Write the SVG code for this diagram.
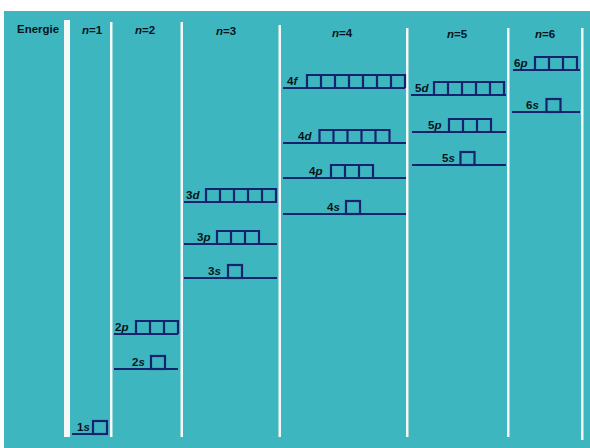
<svg xmlns="http://www.w3.org/2000/svg" width="590" height="448" viewBox="0 0 590 448">
  <style>
    .sep { fill: #f4f8f6; }
    .lvl { stroke: #17226f; stroke-width: 2.2; fill: none; }
    .box { stroke: #17226f; stroke-width: 2.2; fill: none; }
    .lab { font-family: "Liberation Sans", Arial, sans-serif; font-weight: bold; font-size: 11.5px; fill: #08121c; }
    .hdr { font-family: "Liberation Sans", Arial, sans-serif; font-weight: bold; font-size: 11.5px; fill: #08121c; }
    .it { font-style: italic; }
  </style>
  <rect x="0" y="0" width="590" height="448" fill="#ffffff"/>
  <rect x="4" y="11" width="586" height="437" fill="#3db6bf"/>

  <g id="columns">
    <rect class="sep" x="64" y="20" width="6" height="417"/>
    <rect class="sep" x="110" y="22" width="2.5" height="415"/>
    <rect class="sep" x="180.5" y="22" width="2.5" height="415"/>
    <rect class="sep" x="278.5" y="25" width="2.5" height="412"/>
    <rect class="sep" x="406" y="28" width="2.5" height="409"/>
    <rect class="sep" x="507" y="28" width="2.5" height="409"/>
    <rect class="sep" x="581" y="28" width="2.5" height="412"/>
  </g>

  <g id="headers">
    <text class="hdr" x="17" y="33" textLength="42" lengthAdjust="spacingAndGlyphs" font-size="12.5">Energie</text>
    <text class="hdr" x="82" y="34"><tspan class="it">n</tspan>=1</text>
    <text class="hdr" x="135" y="34"><tspan class="it">n</tspan>=2</text>
    <text class="hdr" x="216" y="35"><tspan class="it">n</tspan>=3</text>
    <text class="hdr" x="332" y="37"><tspan class="it">n</tspan>=4</text>
    <text class="hdr" x="447" y="38"><tspan class="it">n</tspan>=5</text>
    <text class="hdr" x="535" y="38"><tspan class="it">n</tspan>=6</text>
  </g>

  <g id="connectors"></g>

  <g id="o1s">
    <line class="lvl" x1="72" y1="434" x2="108" y2="434"/>
    <rect class="box" x="93" y="421" width="14" height="13"/>
    <text class="lab" x="77" y="431">1<tspan class="it">s</tspan></text>
  </g>

  <g id="o2p">
    <line class="lvl" x1="114" y1="334" x2="178" y2="334"/>
    <path class="box" d="M136,334V321H178V334M150,321V334M164,321V334"/>
    <text class="lab" x="115" y="331">2<tspan class="it">p</tspan></text>
  </g>
  <g id="o2s">
    <line class="lvl" x1="114" y1="369" x2="178" y2="369"/>
    <rect class="box" x="151" y="356" width="14" height="13"/>
    <text class="lab" x="132" y="366">2<tspan class="it">s</tspan></text>
  </g>

  <g id="o3d">
    <line class="lvl" x1="184" y1="202" x2="277" y2="202"/>
    <path class="box" d="M206,202V189H276V202M220,189V202M234,189V202M248,189V202M262,189V202"/>
    <text class="lab" x="186" y="199">3<tspan class="it">d</tspan></text>
  </g>
  <g id="o3p">
    <line class="lvl" x1="184" y1="244" x2="277" y2="244"/>
    <path class="box" d="M217,244V231H259V244M231,231V244M245,231V244"/>
    <text class="lab" x="197" y="241">3<tspan class="it">p</tspan></text>
  </g>
  <g id="o3s">
    <line class="lvl" x1="184" y1="278" x2="277" y2="278"/>
    <rect class="box" x="228" y="265" width="14" height="13"/>
    <text class="lab" x="208" y="275">3<tspan class="it">s</tspan></text>
  </g>

  <g id="o4f">
    <line class="lvl" x1="283" y1="88" x2="405" y2="88"/>
    <path class="box" d="M307,88V75H405V88M321,75V88M335,75V88M349,75V88M363,75V88M377,75V88M391,75V88"/>
    <text class="lab" x="287" y="85">4<tspan class="it">f</tspan></text>
  </g>
  <g id="o4d">
    <line class="lvl" x1="283" y1="143" x2="406" y2="143"/>
    <path class="box" d="M319.5,143V130H389.5V143M333.5,130V143M347.5,130V143M361.5,130V143M375.5,130V143"/>
    <text class="lab" x="298" y="140">4<tspan class="it">d</tspan></text>
  </g>
  <g id="o4p">
    <line class="lvl" x1="283" y1="178" x2="406" y2="178"/>
    <path class="box" d="M331,178V165H373V178M345,165V178M359,165V178"/>
    <text class="lab" x="309" y="175">4<tspan class="it">p</tspan></text>
  </g>
  <g id="o4s">
    <line class="lvl" x1="283" y1="214" x2="406" y2="214"/>
    <rect class="box" x="346" y="201" width="14" height="13"/>
    <text class="lab" x="327" y="211">4<tspan class="it">s</tspan></text>
  </g>

  <g id="o5d">
    <line class="lvl" x1="411" y1="95" x2="506" y2="95"/>
    <path class="box" d="M434,95V82H504V95M448,82V95M462,82V95M476,82V95M490,82V95"/>
    <text class="lab" x="415" y="92">5<tspan class="it">d</tspan></text>
  </g>
  <g id="o5p">
    <line class="lvl" x1="412" y1="132" x2="506" y2="132"/>
    <path class="box" d="M449,132V119H491V132M463,119V132M477,119V132"/>
    <text class="lab" x="428" y="129">5<tspan class="it">p</tspan></text>
  </g>
  <g id="o5s">
    <line class="lvl" x1="412" y1="165" x2="506" y2="165"/>
    <rect class="box" x="460.5" y="152" width="14" height="13"/>
    <text class="lab" x="442" y="162">5<tspan class="it">s</tspan></text>
  </g>

  <g id="o6p">
    <line class="lvl" x1="513" y1="70" x2="580" y2="70"/>
    <path class="box" d="M535,70V57H577V70M549,57V70M563,57V70"/>
    <text class="lab" x="514" y="67">6<tspan class="it">p</tspan></text>
  </g>
  <g id="o6s">
    <line class="lvl" x1="512" y1="112" x2="580" y2="112"/>
    <rect class="box" x="546.5" y="99" width="14" height="13"/>
    <text class="lab" x="526" y="109">6<tspan class="it">s</tspan></text>
  </g>
</svg>
